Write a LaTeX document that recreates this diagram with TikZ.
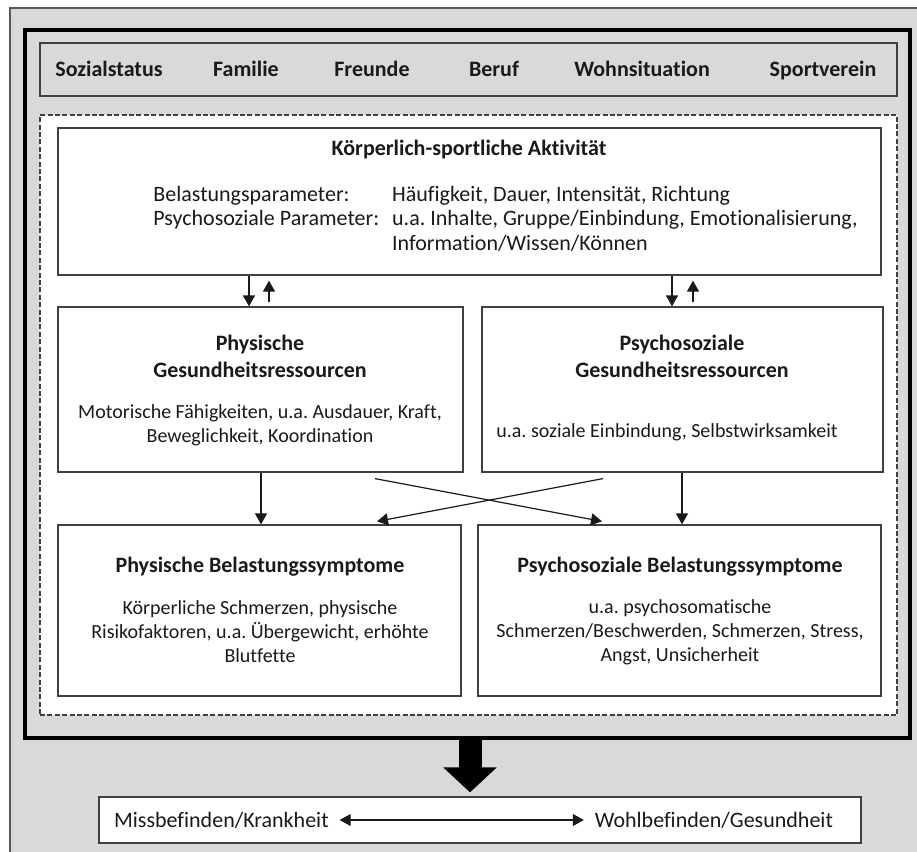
\documentclass[tikz,border=0pt]{standalone}
\usepackage{fontspec}
\setmainfont{Carlito}[Ligatures=NoCommon]
\usetikzlibrary{fit,calc,arrows.meta}
\definecolor{panelgray}{HTML}{D9D9D9}
\definecolor{edgegray}{HTML}{404040}
\definecolor{inkgray}{HTML}{1A1A1A}
\frenchspacing

\begin{document}
\begin{tikzpicture}[x=0.5pt, y=-0.5pt,
    every node/.style={font=\fontsize{11}{12.25}\selectfont, text=inkgray},
    box/.style={draw=edgegray, fill=white, line width=0.6pt, inner sep=0pt},
    bar/.style={draw=edgegray, fill=panelgray, line width=0.6pt, inner sep=0pt},
    zone/.style={draw=edgegray, fill=white, line width=0.6pt, inner sep=0pt, dash pattern=on 2.5pt off 1.2pt},
    frame/.style={draw=black, line width=1.6pt, inner sep=0pt},
    head/.style={font=\fontsize{11}{13.5}\selectfont\bfseries, align=center},
    body/.style={font=\fontsize{10}{12}\selectfont, align=center},
    link/.style={-{Triangle[length=5.5pt,width=6pt]}, line width=0.6pt, draw=inkgray},
  ]
  \clip (0,0) rectangle (917,852);

  % Background panel
  \draw[draw=gray!70!black, fill=panelgray, line width=0.6pt] (10,8) rectangle (950,890);
  \node[frame, fit={(25,30) (910,738)}] (frame) {};

  % Context bar
  \node[bar, fit={(40,43) (897,96)}] (context) {};
  \foreach \x/\t [count=\i] in {109/Sozialstatus, 246/Familie, 372/Freunde,
      494/Beruf, 642/Wohnsituation, 823/Sportverein}
    \node[head, anchor=base] (ctx\i) at (\x,76) {\t};

  % Dashed area
  \node[zone, fit={(40,115) (897,715)}] (zone) {};

  % Activity
  \node[box, fit={(58,128) (881,275)}] (activity) {};
  \node[head] (acttitle) at (469,150) {Körperlich-sportliche Aktivität};
  \node[anchor=west, inner sep=0pt] (params) at (153,221) {%
    \begin{tabular}{@{}l@{\hspace{6.5pt}}l@{}}
      Belastungsparameter: & Häufigkeit, Dauer, Intensität, Richtung\\
      Psychosoziale Parameter: & u.a. Inhalte, Gruppe/Einbindung, Emotionalisierung,\\
      & Information/Wissen/Können
    \end{tabular}};

  % Resources
  \node[box, fit={(58,307) (463,472)}] (physres) {};
  \node[head] (physrestitle) at (260,356) {Physische\\Gesundheitsressourcen};
  \node[body] (physresbody) at (260,425) {Motorische Fähigkeiten, u.a. Ausdauer, Kraft,\\Beweglichkeit, Koordination};

  \node[box, fit={(482,307) (883,472)}] (psyres) {};
  \node[head] (psyrestitle) at (682,356) {Psychosoziale\\Gesundheitsressourcen};
  \node[body] (psyresbody) at (667,432) {u.a. soziale Einbindung, Selbstwirksamkeit};

  % Symptoms
  \node[box, fit={(58,525) (461,696)}] (physsym) {};
  \node[head] (physsymtitle) at (260,567) {Physische Belastungssymptome};
  \node[body] (physsymbody) at (260,632) {Körperliche Schmerzen, physische\\Risikofaktoren, u.a. Übergewicht, erhöhte\\Blutfette};

  \node[box, fit={(478,525) (881,696)}] (psysym) {};
  \node[head] (psysymtitle) at (680,567) {Psychosoziale Belastungssymptome};
  \node[body] (psysymbody) at (680,632) {u.a. psychosomatische\\Schmerzen/Beschwerden, Schmerzen, Stress,\\Angst, Unsicherheit};

  % Links
  \draw[link] (activity.south -| 249,0) -- (physres.north -| 249,0);
  \draw[link, shorten <=2pt, shorten >=2.5pt] (physres.north -| 269,0) -- (activity.south -| 269,0);
  \draw[link] (activity.south -| 672,0) -- (psyres.north -| 672,0);
  \draw[link, shorten <=2pt, shorten >=2.5pt] (psyres.north -| 693,0) -- (activity.south -| 693,0);
  \draw[link] (physres.south -| 261,0) -- (physsym.north -| 261,0);
  \draw[link] (psyres.south -| 682,0) -- (psysym.north -| 682,0);
  \draw[link] ($(physres.south -| 375,0)+(0,6)$) -- ($(psysym.north -| 602,0)+(0,-3)$);
  \draw[link] ($(psyres.south -| 603,0)+(0,6)$) -- ($(physsym.north -| 377,0)+(0,-3)$);

  % Outcome
  \node[box, fit={(99,797) (861,843)}] (outcome) {};
  \node[anchor=west] (ill) at (107,820) {Missbefinden/Krankheit};
  \node[anchor=east] (well) at (840,820) {Wohlbefinden/Gesundheit};
  \draw[{Triangle[length=5.5pt,width=6pt]}-{Triangle[length=5.5pt,width=6pt]}, line width=0.6pt, draw=inkgray, shorten <=2pt, shorten >=2pt] (ill) -- (well);
  \draw[line width=11.5pt, -{Triangle[length=12.5pt,width=26pt]}, shorten >=2pt] (frame.south -| 470,0) -- (outcome.north -| 470,0);
\end{tikzpicture}
\end{document}
